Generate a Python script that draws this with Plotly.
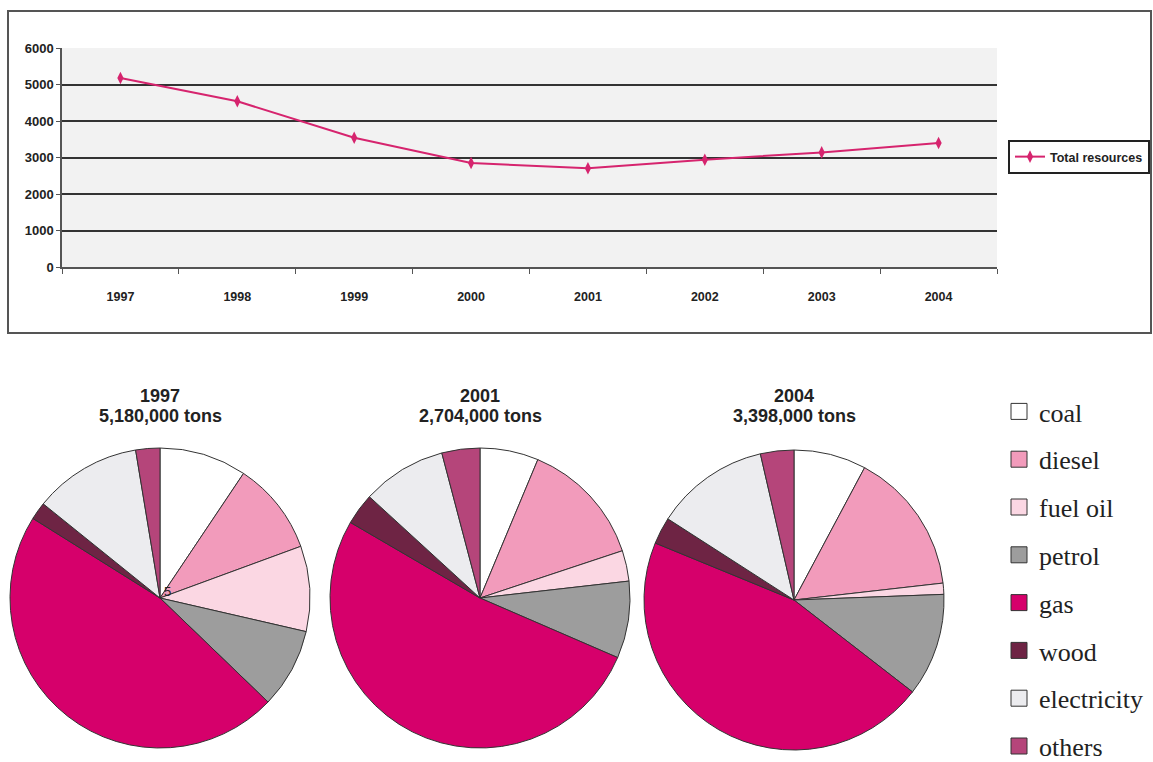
import plotly.graph_objects as go

W, H = 1153, 762

# ---------------- data ----------------
years = ["1997", "1998", "1999", "2000", "2001", "2002", "2003", "2004"]
total_resources = [5180, 4540, 3540, 2850, 2704, 2940, 3140, 3398]

fuels = ["coal", "diesel", "fuel oil", "petrol", "gas", "wood", "electricity", "others"]
fuel_colors = ["#ffffff", "#f29bbb", "#fbd7e3", "#9d9d9d", "#d6006b", "#6e2444", "#ececef", "#b5457a"]

pie_years = ["1997", "2001", "2004"]
pie_totals = ["5,180,000 tons", "2,704,000 tons", "3,398,000 tons"]
share_1997 = [9.4, 10.0, 9.2, 8.6, 46.7, 1.9, 11.6, 2.6]
share_2001 = [6.3, 13.6, 3.3, 8.3, 51.9, 3.4, 9.1, 4.1]
share_2004 = [7.8, 15.4, 1.2, 11.1, 45.7, 2.9, 12.3, 3.6]
pie_shares = [share_1997, share_2001, share_2004]

# ---------------- helpers ----------------
def px_x(v):
    return v / W

def px_y(v):
    return 1 - v / H

fig = go.Figure()

# line chart
fig.add_trace(go.Scatter(
    x=years, y=total_resources, mode="lines+markers", name="Total resources",
    line=dict(color="#d6246e", width=2),
    marker=dict(symbol="diamond-tall", size=9, color="#d6246e"),
    legend="legend",
))

# pies
pie_centers = [(160, 598), (480, 598), (794, 600)]
R = 150
for (cx, cy), yr, tot, shares in zip(pie_centers, pie_years, pie_totals, pie_shares):
    fig.add_trace(go.Pie(
        labels=fuels, values=shares, sort=False, direction="clockwise", rotation=0,
        marker=dict(colors=fuel_colors, line=dict(color="#333333", width=1)),
        textinfo="none", showlegend=False, name=yr,
        domain=dict(x=[px_x(cx - R), px_x(cx + R)], y=[px_y(cy + R), px_y(cy - R)]),
    ))
    fig.add_annotation(x=px_x(cx), y=px_y(396), xref="paper", yref="paper",
                       xanchor="center", yanchor="middle",
                       text=yr, showarrow=False,
                       font=dict(family="Liberation Sans, Arial", size=18, color="#222", weight="bold"))
    fig.add_annotation(x=px_x(cx), y=px_y(416), xref="paper", yref="paper",
                       xanchor="center", yanchor="middle",
                       text=tot, showarrow=False,
                       font=dict(family="Liberation Sans, Arial", size=18, color="#222", weight="bold"))

# stray label on 1997 pie
fig.add_annotation(x=px_x(168), y=px_y(591), xref="paper", yref="paper", text="5",
                   xanchor="center", yanchor="middle",
                   showarrow=False, font=dict(family="Liberation Sans, Arial", size=13, color="#222"))

# legend entries for the pie fuels
for f, c in zip(fuels, fuel_colors):
    fig.add_trace(go.Scatter(
        x=[None], y=[None], mode="markers", name=f, legend="legend2", legendgroup=f,
        marker=dict(symbol="square", size=16, color=c, line=dict(color="#333333", width=1)),
        hoverinfo="skip",
    ))

fig.update_layout(
    width=W, height=H,
    margin=dict(l=0, r=0, t=0, b=0, autoexpand=False),
    paper_bgcolor="white",
    plot_bgcolor="#f2f2f2",
    xaxis=dict(
        domain=[px_x(62), px_x(997)], type="category", range=[-0.5, 7.5],
        tickson="boundaries", ticks="outside", ticklen=5, tickcolor="#555",
        showline=True, linecolor="#555", linewidth=1.5, showgrid=False,
        tickfont=dict(family="Liberation Sans, Arial", size=12.5, color="#222", weight="bold"),
        ticklabelstandoff=17,
    ),
    yaxis=dict(
        domain=[px_y(267), px_y(48)], range=[0, 6000], dtick=1000,
        ticks="outside", ticklen=4, tickcolor="#555",
        showline=True, linecolor="#555", linewidth=1.5,
        showgrid=True, gridcolor="#333333", gridwidth=1.5, zeroline=False,
        tickfont=dict(family="Liberation Sans, Arial", size=13, color="#222", weight="bold"),
    ),
    legend=dict(
        x=px_x(1008), y=px_y(157), xanchor="left", yanchor="middle",
        bgcolor="white", bordercolor="#222", borderwidth=2,
        font=dict(family="Liberation Sans, Arial", size=12.5, color="#222", weight="bold"),
    ),
    legend2=dict(
        x=px_x(999), y=px_y(388), xanchor="left", yanchor="top",
        bgcolor="rgba(0,0,0,0)", tracegroupgap=11,
        font=dict(family="Liberation Serif, Times New Roman, serif", size=26, color="#222"),
    ),
    shapes=[dict(type="rect", xref="paper", yref="paper",
                 x0=px_x(8), x1=px_x(1151), y0=px_y(333), y1=px_y(11),
                 line=dict(color="#555", width=2), layer="below")],
)

fig.write_html("out.html")
